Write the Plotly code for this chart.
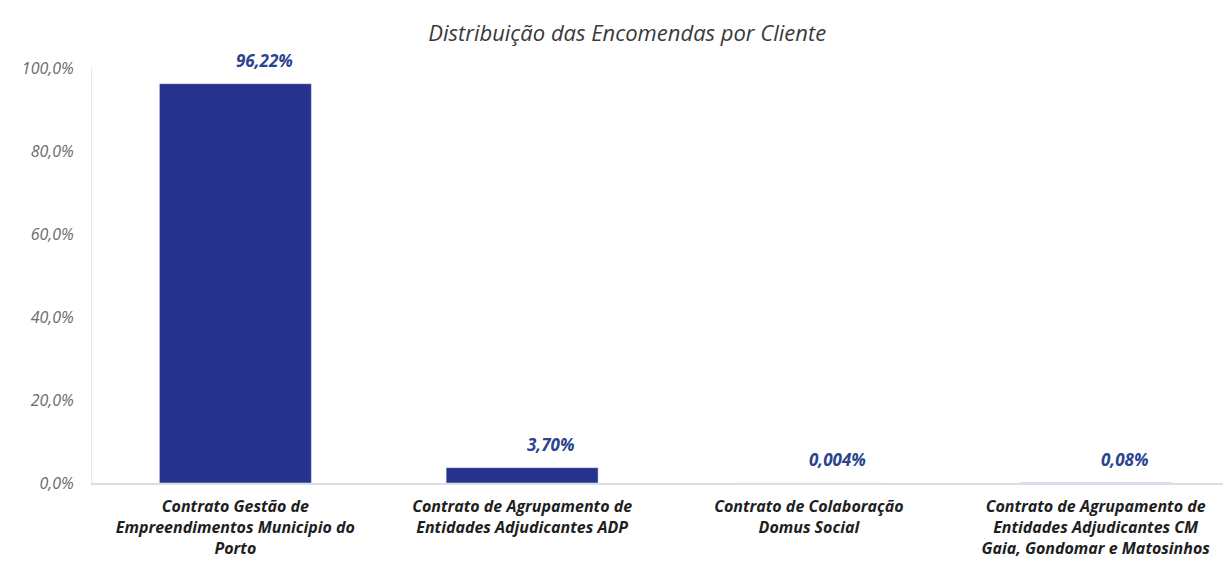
import plotly.graph_objects as go

# Distribuição das encomendas por cliente
clientes = [
    'Contrato Gestão de<br>Empreendimentos Municipio do<br>Porto',
    'Contrato de Agrupamento de<br>Entidades Adjudicantes ADP',
    'Contrato de Colaboração<br>Domus Social',
    'Contrato de Agrupamento de<br>Entidades Adjudicantes CM<br>Gaia, Gondomar e Matosinhos',
]
percentagens = [0.9622, 0.0370, 0.00004, 0.0008]
rotulos = ['96,22%', '3,70%', '0,004%', '0,08%']

cor_barra = '#26338c'
cor_rotulo = '#2c4390'
fonte = 'Open Sans'

fig = go.Figure(go.Bar(
    x=clientes,
    y=percentagens,
    marker_color=cor_barra,
    width=0.53,
    hoverinfo='skip',
))

# rótulos de dados ligeiramente à direita de cada barra, como no original
for cl, v, r in zip(clientes, percentagens, rotulos):
    fig.add_annotation(
        x=cl, y=v, text=r, showarrow=False,
        yanchor='bottom', yshift=10, xshift=29,
        font=dict(family=fonte, size=17, color=cor_rotulo, style='italic', weight='bold'),
    )

fig.update_layout(
    width=1231, height=564,
    margin=dict(l=84, r=0, t=60, b=89),
    paper_bgcolor='white', plot_bgcolor='white',
    separators=',.',
    showlegend=False,
    title=dict(
        text='Distribuição das Encomendas por Cliente',
        x=0.503, xanchor='center', y=0.956, yanchor='middle',
        font=dict(family=fonte, size=22, color='#3a3a3a', style='italic'),
    ),
    xaxis=dict(
        showline=True, linecolor='#dcdde6', linewidth=1.5,
        showgrid=False, ticks='',
        tickfont=dict(family=fonte, size=16, color='#1e1e1e', style='italic', weight='bold'),
        ticklabelstandoff=8,
    ),
    yaxis=dict(
        range=[0, 1], tickvals=[0, 0.2, 0.4, 0.6, 0.8, 1.0], tickformat='.1%',
        showline=True, linecolor='#e6e7ee', linewidth=1,
        showgrid=False, zeroline=False, ticks='',
        tickfont=dict(family=fonte, size=16, color='#6b6b6b', style='italic'),
        ticklabelstandoff=14,
    ),
)

fig.write_html('out.html')
